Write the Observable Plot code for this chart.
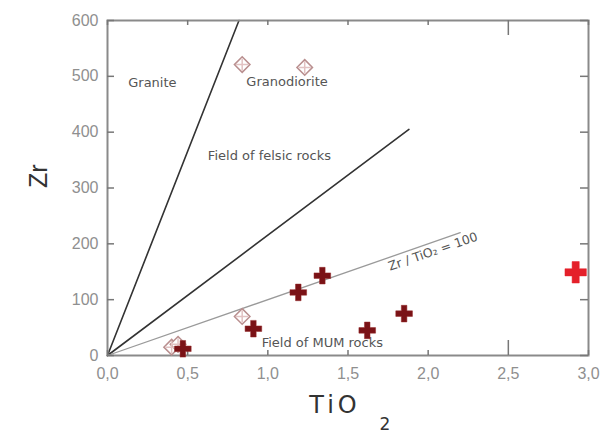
<!DOCTYPE html>
<html>
<head>
<meta charset="utf-8">
<script src="https://cdn.jsdelivr.net/npm/d3@7"></script>
<script src="https://cdn.jsdelivr.net/npm/@observablehq/plot@0.6"></script>
<style>
  html, body { margin: 0; padding: 0; background: #fff; }
  #chart { width: 604px; height: 435px; }
  .tio text { letter-spacing: 4px; }
</style>
</head>
<body>
<div id="chart"></div>
<script>
// ---- data ----
const xTicks = [0, 0.5, 1.0, 1.5, 2.0, 2.5, 3.0];
const xTickLabels = ["0,0", "0,5", "1,0", "1,5", "2,0", "2,5", "3,0"];
const yTicks = [0, 100, 200, 300, 400, 500, 600];

const graniteLine = [{x: 0, y: 0}, {x: 0.82, y: 600}];
const felsicLine = [{x: 0, y: 0}, {x: 1.88, y: 405}];
const ratio100Line = [{x: 0, y: 0}, {x: 2.2, y: 220}];

const granodioriteTi = [0.84, 1.23, 0.84, 0.40, 0.44];
const granodioriteZr = [521, 516, 70, 15, 20];

const mumTi = [0.47, 0.91, 1.19, 1.34, 1.62, 1.85];
const mumZr = [12, 48, 113, 143, 45, 75];

const sampleTi = [2.92];
const sampleZr = [149];

const fieldLabels = [
  {text: "Granite", x: 0.28, y: 489},
  {text: "Granodiorite", x: 1.12, y: 491},
  {text: "Field of felsic rocks", x: 1.01, y: 358},
  {text: "Field of MUM rocks", x: 1.34, y: 22}
];
const ratioLabel = {text: "Zr / TiO\u2082 = 100", x: 2.03, y: 186};

// ---- build ----
const W = 604, H = 435;
const mL = 107, mR = 16, mT = 20, mB = 80;
const plotH = H - mT - mB, plotW = W - mL - mR;

const diamonds = granodioriteTi.map((x, i) => ({x, y: granodioriteZr[i]}));
const mum = mumTi.map((x, i) => ({x, y: mumZr[i]}));
const sample = sampleTi.map((x, i) => ({x, y: sampleZr[i]}));

const font = "Liberation Sans, Arial, sans-serif";
const wide = "DejaVu Sans, sans-serif";

const chart = Plot.plot({
  width: W,
  height: H,
  marginLeft: mL,
  marginRight: mR,
  marginTop: mT,
  marginBottom: mB,
  style: {fontFamily: font, background: "#fff"},
  x: {domain: [0, 3]},
  y: {domain: [0, 600]},
  marks: [
    // boundary lines
    Plot.line(graniteLine, {x: "x", y: "y", stroke: "#333", strokeWidth: 1.6}),
    Plot.line(felsicLine, {x: "x", y: "y", stroke: "#333", strokeWidth: 1.6}),
    Plot.line(ratio100Line, {x: "x", y: "y", stroke: "#9a9a9a", strokeWidth: 1.3}),
    // frame
    Plot.frame({stroke: "#8a8a8a", strokeWidth: 2}),
    // inside ticks: bottom
    Plot.tickX(xTicks.filter(d => d !== 2.5), {x: d => d, stroke: "#777", strokeWidth: 1.5, insetTop: plotH - 5}),
    Plot.tickX(xTicks.filter(d => d === 2.5), {x: d => d, stroke: "#777", strokeWidth: 1.5, insetTop: plotH - 15}),
    // top
    Plot.tickX(xTicks.filter(d => d !== 2.5), {x: d => d, stroke: "#777", strokeWidth: 1.5, insetBottom: plotH - 5}),
    Plot.tickX(xTicks.filter(d => d === 2.5), {x: d => d, stroke: "#777", strokeWidth: 1.5, insetBottom: plotH - 15}),
    // left / right
    Plot.tickY(yTicks, {y: d => d, stroke: "#777", strokeWidth: 1.5, insetRight: plotW - 7}),
    Plot.tickY(yTicks, {y: d => d, stroke: "#777", strokeWidth: 1.5, insetLeft: plotW - 8}),
    // tick labels
    Plot.axisX({ticks: xTicks, tickSize: 0, tickPadding: 12, tickFormat: d => xTickLabels[xTicks.indexOf(d)], label: null, fontSize: 16, color: "#8f8f8f", fontFamily: font}),
    Plot.axisY({ticks: yTicks, tickSize: 0, tickPadding: 9, label: null, fontSize: 16, color: "#8f8f8f", fontFamily: font}),
    // axis titles
    Plot.text(["Zr"], {frameAnchor: "left", dx: -69, rotate: -90, text: d => d, fontSize: 25, fill: "#333", fontFamily: font}),
    Plot.text(["TiO"], {frameAnchor: "bottom", dx: -13, dy: 57, text: d => d, fontSize: 24, fill: "#333", fontFamily: wide, textAnchor: "middle", className: "tio"}),
    Plot.text(["2"], {frameAnchor: "bottom", dx: 37, dy: 74, text: d => d, fontSize: 17, fill: "#333", fontFamily: wide, textAnchor: "middle"}),
    // field labels
    Plot.text(fieldLabels, {x: "x", y: "y", text: "text", fontSize: 13, fill: "#555", fontFamily: wide, textAnchor: "middle"}),
    Plot.text([ratioLabel], {x: "x", y: "y", text: "text", rotate: -19, fontSize: 12.5, fill: "#555", fontFamily: wide, textAnchor: "middle"}),
    // granodiorite open diamonds with inner cross
    Plot.dot(diamonds, {x: "x", y: "y", symbol: "diamond2", r: 7, stroke: "#b98f8f", strokeWidth: 1.5, fill: "#fff"}),
    Plot.dot(diamonds, {x: "x", y: "y", symbol: "plus", r: 4, stroke: "#e2c2c2", strokeWidth: 1.5}),
    // MUM rocks crosses
    Plot.dot(mum, {x: "x", y: "y", symbol: d3.symbolCross, r: 7, fill: "#7a1216", stroke: "#952828", strokeWidth: 0.5}),
    // studied sample
    Plot.dot(sample, {x: "x", y: "y", symbol: d3.symbolCross, r: 9, fill: "#e4202a", stroke: "#e4202a", strokeWidth: 0.5})
  ]
});

document.getElementById("chart").appendChild(chart);
</script>
</body>
</html>
